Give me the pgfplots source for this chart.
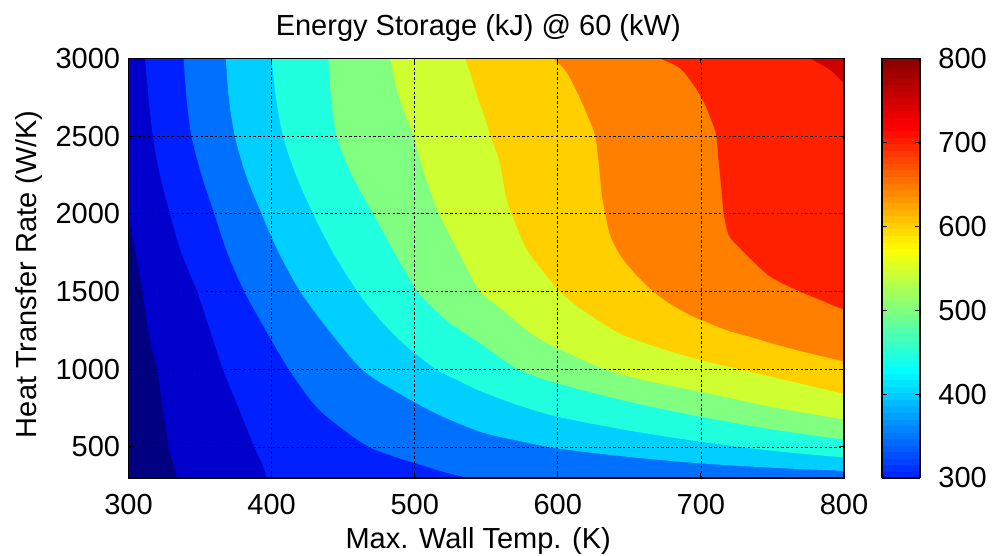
\documentclass[border=0pt]{standalone}
\usepackage{pgfplots}
\pgfplotsset{compat=1.18}
\usepackage{fontspec}
\setmainfont{Liberation Sans}
\definecolor{c1}{RGB}{0,0,128}
\definecolor{c2}{RGB}{0,0,205}
\definecolor{c3}{RGB}{0,32,255}
\definecolor{c4}{RGB}{0,112,255}
\definecolor{c5}{RGB}{0,207,255}
\definecolor{c6}{RGB}{32,255,222}
\definecolor{c7}{RGB}{128,255,128}
\definecolor{c8}{RGB}{207,255,48}
\definecolor{c9}{RGB}{255,207,0}
\definecolor{c10}{RGB}{255,128,0}
\definecolor{c11}{RGB}{255,32,0}
\definecolor{c12}{RGB}{205,0,0}
\pgfplotsset{
  /pgf/number format/assume math mode=true,
  /pgf/number format/1000 sep={},
  region/.style={fill=#1, draw=none, smooth, tension=0.5},
}
\begin{document}
\begin{tikzpicture}[x=1pt,y=1pt]
\useasboundingbox (0,0) rectangle (498.5,278);
\begin{axis}[
  at={(64.25pt,39.0pt)}, anchor=south west,
  scale only axis, width=357.75pt, height=209.8pt,
  xmin=300, xmax=800, ymin=300, ymax=3000,
  xtick={300,400,...,800}, ytick={500,1000,...,3000},
  font=\fontsize{14.5}{17}\selectfont,
  grid=major, axis on top,
  major grid style={black, dash pattern=on 1.2pt off 1.2pt, line width=0.35pt},
  axis line style={line width=0.7pt},
  tick style={black, line width=0.5pt},
  major tick length=2.5pt,
  tick align=inside,
  xticklabel style={anchor=base, yshift=-18.35pt},
  yticklabel style={inner sep=0pt, xshift=-4pt},
  title={Energy Storage (kJ) @ 60 (kW)},
  title style={at={(axis description cs:0.4888,1.027)}, anchor=base},
  xlabel={Max. Wall Temp. (K)},
  xlabel style={at={(axis description cs:0.4888,-0.1687)}, anchor=base},
  ylabel={Heat Transfer Rate (W/K)},
  ylabel style={at={(axis description cs:-0.1283,0.4857)}, anchor=base},
  colormap={jetlike}{rgb255(0pt)=(0,30,255); rgb255(128pt)=(0,255,255); rgb255(273pt)=(255,255,0); rgb255(418pt)=(255,0,0); rgb255(500pt)=(135,0,0)},
  point meta min=300, point meta max=800,
  colorbar sampled,
  colorbar style={
    samples=65,
    at={(parent axis.north east)}, anchor=north west, xshift=10.46pt,
    width=19pt,
    ytick={300,400,...,800},
    ytick pos=both, yticklabel pos=right,
    tick align=inside,
    major tick length=2.5pt,
    tick style={black, line width=0.5pt},
    axis line style={line width=0.7pt},
    yticklabel style={inner sep=0pt, xshift=9pt, anchor=west},
    font=\fontsize{14.5}{17}\selectfont,
  },
]
% lowest band
\addplot[fill=c1, draw=none] coordinates {(300,300)(800,300)(800,3000)(300,3000)};
% contour bands, each filled above its lower boundary
\addplot[region=c2] coordinates {(298,2100)(300,1985)(303,1850)(306,1700)(309,1550)(312,1350)(316,1150)(320,1000)(324,750)(328,500)(331,400)(334,300)(337,200)(900,200)(900,3200)(250,3200)};
\addplot[region=c3] coordinates {(310.5,3100)(311.5,3000)(314,2750)(317,2500)(322,2250)(329,2000)(337,1750)(348,1500)(357,1250)(366,1000)(377,750)(388,500)(393,400)(397,300)(401,200)(900,200)(900,3200)};
\addplot[region=c4] coordinates {(337.5,3100)(338.5,3000)(340.5,2750)(344,2500)(351,2250)(360,2000)(369,1750)(381,1500)(396,1250)(412,1000)(431,760)(449,620)(468,500)(485,440)(501,394)(520,340)(537,300)(556,255)(900,200)(900,3200)};
\addplot[region=c5] coordinates {(367,3100)(368,3000)(370,2750)(374.3,2500)(382,2250)(393,2000)(405,1750)(420,1500)(440,1250)(463,1000)(485,866)(515,715)(546,597)(572,540)(600,490)(650,435)(700,394)(750,366)(800,346)(850,330)(900,3200)};
\addplot[region=c6] coordinates {(399,3100)(400,3000)(403,2750)(408,2500)(417,2250)(429,2000)(443,1750)(460,1500)(476,1316)(494,1150)(515,1000)(532,920)(547,855)(572,770)(600,694)(650,605)(700,533)(750,475)(800,432)(850,395)(900,3200)};
\addplot[region=c7] coordinates {(439,3100)(439.6,3000)(441.5,2750)(445.4,2500)(456,2250)(471,2000)(486,1750)(502,1500)(522,1316)(546,1165)(572,1000)(600,908)(650,790)(700,694)(750,612)(800,548)(850,490)(900,3200)};
\addplot[region=c8] coordinates {(480,3100)(482.7,3000)(489,2750)(499,2500)(507,2250)(517,2000)(531,1750)(545,1508)(560,1391)(583,1219)(600,1135)(630,1010)(660,930)(700,855)(750,757)(800,677)(850,605)(900,3200)};
\addplot[region=c9] coordinates {(531,3100)(535.2,3000)(539,2900)(544,2750)(549,2620)(553,2500)(557,2400)(560,2310)(564,2100)(569,1970)(578,1777)(590,1627)(600.5,1509)(611,1423)(629.6,1305)(646,1219)(670,1140)(700,1059)(750,950)(800,842)(850,734)(900,3200)};
\addplot[region=c10] coordinates {(588,3090)(597,3000)(606,2914)(615.6,2742)(622.6,2592)(626.1,2502)(628.5,2335)(630.8,2120)(633.1,2002)(636.6,1863)(643.6,1734)(652.9,1627)(664.6,1519)(676.3,1434)(690.2,1359)(700.5,1316)(718.2,1251)(734.5,1208)(760,1140)(800,1050)(850,950)(900,3200)};
\addplot[region=c11] coordinates {(657,3070)(671.6,3000)(685.6,2935)(694.9,2828)(701.9,2721)(707.7,2592)(710.7,2502)(712.4,2335)(714.7,2120)(715.9,2002)(719.4,1863)(727.5,1777)(734.5,1712)(748.5,1595)(767,1509)(785,1440)(800,1385)(850,1250)(900,3200)};
\addplot[region=c12] coordinates {(765,3080)(776.5,3000)(790.5,2925)(800,2839)(815,2700)(900,3200)};
\end{axis}
\end{tikzpicture}
\end{document}
